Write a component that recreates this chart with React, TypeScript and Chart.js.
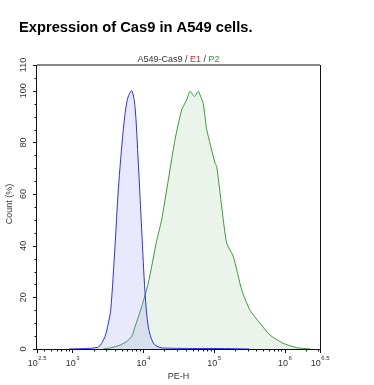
import React, { useEffect, useRef } from "react";
import { Chart, registerables } from "chart.js";

Chart.register(...registerables);

// Histogram data: x in log10(PE-H), y in Count (%)
const blueLogX = [2.95, 3.2, 3.35, 3.39, 3.461, 3.508, 3.542, 3.602, 3.649, 3.72, 3.776, 3.838, 3.885, 3.932, 3.98, 4.027, 4.073, 4.144, 4.238, 4.4, 4.7, 5.0, 5.3, 5.5];
const blueCount = [0, 0.2, 0.6, 1.3, 4.8, 10, 15, 39.6, 61.6, 85, 96.5, 100, 94, 72, 46, 21.7, 8.6, 2.3, 0.6, 0.3, 0.2, 0.2, 0.1, 0];

const greenLogX = [3.437, 3.55, 3.673, 3.76, 3.838, 3.885, 3.98, 4.073, 4.192, 4.262, 4.356, 4.45, 4.545, 4.616, 4.662, 4.724, 4.78, 4.804, 4.85, 4.899, 5.016, 5.04, 5.111, 5.181, 5.275, 5.393, 5.511, 5.652, 5.793, 5.981, 6.171, 6.359];
const greenCount = [0, 0.5, 1.5, 2.8, 4.8, 8.6, 16.4, 25.5, 42, 50, 65.5, 81, 92.6, 96.5, 99.8, 97.8, 99.8, 98.4, 95, 85, 72, 70.7, 55, 41, 35.8, 22.9, 15, 10, 5.4, 2.2, 0.5, 0];

const xTickValues = [2.5, 3, 4, 5, 6, 6.5];
const xTickExponents = ["2.5", "3", "4", "5", "6", "6.5"];
const yTickValues = [0, 20, 40, 60, 80, 100, 110];

const titleText = "Expression of Cas9 in A549 cells.";
const xAxisTitle = "PE-H";
const yAxisTitle = "Count (%)";
const subtitleParts = [
  { text: "A549-Cas9 / ", color: "#333333" },
  { text: "E1", color: "#e8202a" },
  { text: " / ", color: "#333333" },
  { text: "P2", color: "#2f9a3a" },
];

const FONT = "'Liberation Sans', Arial, Helvetica, sans-serif";

const decorPlugin = {
  id: "decor",
  afterDraw(chart: any) {
    const ctx = chart.ctx as CanvasRenderingContext2D;
    const { left, right, top, bottom } = chart.chartArea;
    const xs = chart.scales.x;
    const ys = chart.scales.y;
    ctx.save();

    // Title
    ctx.fillStyle = "#000";
    ctx.font = `bold 14.7px ${FONT}`;
    ctx.textAlign = "left";
    ctx.textBaseline = "alphabetic";
    ctx.fillText(titleText, 19, 32);

    // Subtitle
    ctx.font = `9px ${FONT}`;
    let total = 0;
    subtitleParts.forEach((p) => (total += ctx.measureText(p.text).width));
    let sx = (left + right) / 2 - total / 2;
    subtitleParts.forEach((p) => {
      ctx.fillStyle = p.color;
      ctx.fillText(p.text, sx, 62);
      sx += ctx.measureText(p.text).width;
    });

    // Frame
    ctx.strokeStyle = "#888";
    ctx.lineWidth = 2;
    ctx.beginPath();
    ctx.moveTo(left, top);
    ctx.lineTo(right, top);
    ctx.stroke();
    ctx.strokeStyle = "#111";
    ctx.lineWidth = 1;
    ctx.beginPath();
    ctx.moveTo(right + 0.5, top);
    ctx.lineTo(right + 0.5, bottom);
    ctx.stroke();
    ctx.beginPath();
    ctx.moveTo(left - 0.5, top);
    ctx.lineTo(left - 0.5, bottom + 0.5);
    ctx.lineTo(right + 0.5, bottom + 0.5);
    ctx.stroke();

    // X ticks: major and minor
    ctx.strokeStyle = "#111";
    ctx.beginPath();
    xTickValues.forEach((v) => {
      const px = Math.round(xs.getPixelForValue(v)) + 0.5;
      ctx.moveTo(px, bottom);
      ctx.lineTo(px, bottom + 4);
    });
    for (let d = 2; d <= 6; d++) {
      for (let k = 2; k <= 9; k++) {
        const lv = d + Math.log10(k);
        if (lv <= xs.min || lv >= xs.max) continue;
        const px = Math.round(xs.getPixelForValue(lv)) + 0.5;
        ctx.moveTo(px, bottom);
        ctx.lineTo(px, bottom + 2.5);
      }
    }
    ctx.stroke();

    // X tick labels
    ctx.fillStyle = "#333";
    xTickValues.forEach((v, i) => {
      const px = xs.getPixelForValue(v);
      ctx.font = `9px ${FONT}`;
      const w1 = ctx.measureText("10").width;
      ctx.font = `6px ${FONT}`;
      const w2 = ctx.measureText(xTickExponents[i]).width;
      const x0 = px - (w1 + w2) / 2;
      ctx.font = `9px ${FONT}`;
      ctx.textAlign = "left";
      ctx.fillText("10", x0, 366);
      ctx.font = `6px ${FONT}`;
      ctx.fillText(xTickExponents[i], x0 + w1 + 0.5, 360);
    });

    // X axis title
    ctx.font = `9px ${FONT}`;
    ctx.textAlign = "center";
    ctx.fillText(xAxisTitle, (left + right) / 2, 379);

    // Y ticks
    ctx.beginPath();
    yTickValues.forEach((v) => {
      const py = Math.round(ys.getPixelForValue(v)) + 0.5;
      ctx.moveTo(left - 4, py);
      ctx.lineTo(left, py);
    });
    for (let v = 5; v < 110; v += 5) {
      if (v % 20 === 0) continue;
      const py = Math.round(ys.getPixelForValue(v)) + 0.5;
      ctx.moveTo(left - 2.5, py);
      ctx.lineTo(left, py);
    }
    ctx.stroke();

    // Y tick labels (rotated)
    ctx.font = `9px ${FONT}`;
    ctx.textAlign = "center";
    ctx.textBaseline = "middle";
    yTickValues.forEach((v) => {
      const py = ys.getPixelForValue(v);
      ctx.save();
      ctx.translate(24, py);
      ctx.rotate(-Math.PI / 2);
      ctx.fillText(String(v), 0, 0);
      ctx.restore();
    });

    // Y axis title
    ctx.save();
    ctx.translate(10, 204);
    ctx.rotate(-Math.PI / 2);
    ctx.fillText(yAxisTitle, 0, 0);
    ctx.restore();

    ctx.restore();
  },
};

export default function App() {
  const canvasRef = useRef<HTMLCanvasElement | null>(null);

  useEffect(() => {
    if (!canvasRef.current) return;
    const blueData = blueLogX.map((x, i) => ({ x, y: blueCount[i] }));
    const greenData = greenLogX.map((x, i) => ({ x, y: greenCount[i] }));
    const chart = new Chart(canvasRef.current, {
      type: "line",
      data: {
        datasets: [
          {
            label: "E1",
            data: blueData,
            borderColor: "#2f2ff0",
            backgroundColor: "rgba(120,120,240,0.16)",
            borderWidth: 1,
            pointRadius: 0,
            fill: "origin",
            tension: 0.3,
          },
          {
            label: "P2",
            data: greenData,
            borderColor: "#3a9a3a",
            backgroundColor: "rgba(110,180,110,0.14)",
            borderWidth: 1,
            pointRadius: 0,
            fill: "origin",
            tension: 0.2,
          },
        ],
      },
      options: {
        animation: false,
        responsive: false,
        layout: { padding: { left: 37, right: 54, top: 65, bottom: 36 } },
        plugins: { legend: { display: false }, tooltip: { enabled: false }, title: { display: false } },
        scales: {
          x: { type: "linear", min: 2.5, max: 6.5, display: false },
          y: { type: "linear", min: 0, max: 110, display: false },
        },
      },
      plugins: [decorPlugin],
    });
    return () => chart.destroy();
  }, []);

  return (
    <div style={{ position: "absolute", left: 0, top: 0, width: 374, height: 385, background: "#fff" }}>
      <canvas ref={canvasRef} width={374} height={385} style={{ width: 374, height: 385, display: "block" }} />
    </div>
  );
}
